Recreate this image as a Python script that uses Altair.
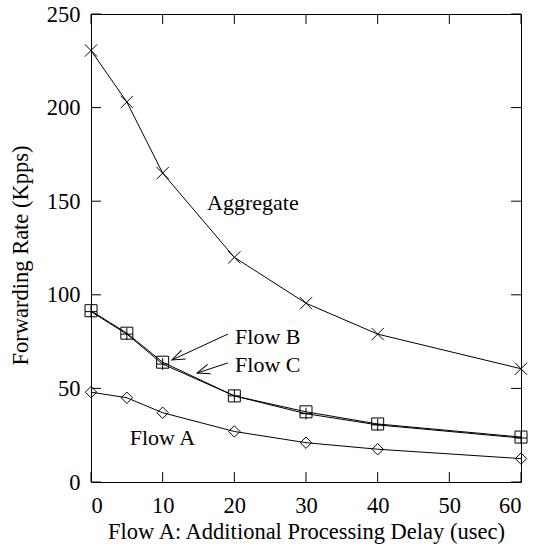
import math
import altair as alt
import pandas as pd

# ---- data ----
x_vals = [0, 5, 10, 20, 30, 40, 60]
aggregate = [230.5, 203, 165, 120, 95.5, 79, 60.5]
flow_b = [91.5, 79.5, 64, 46, 37.5, 31, 24]
flow_c = [91, 79, 63, 46, 36.5, 30.5, 23.5]
flow_a = [48, 45, 37, 27, 21, 17.5, 12.5]

x_ticks = [0, 10, 20, 30, 40, 50, 60]
y_ticks = [0, 50, 100, 150, 200, 250]

label_text = ["Aggregate", "Flow B", "Flow C", "Flow A"]
label_x = [16.2, 20.1, 20.1, 5.4]
label_y = [149, 77.5, 62.5, 23.5]

arrow_x1 = [19.1, 19.1]
arrow_y1 = [79, 63.6]
arrow_x2 = [11.3, 14.8]
arrow_y2 = [65.2, 58.2]

# ---- layout ----
W, H = 430, 468
FONT = "Liberation Serif"
FS = 22
AFS = 22.5

xs = alt.Scale(domain=[0, 60], nice=False, zero=False)
ys = alt.Scale(domain=[0, 250], nice=False, zero=True)

X_SHAPE = "M-1,-1L1,1M-1,1L1,-1"
PLUS = "M-1,0L1,0M0,-1L0,1"
ARROW = "M-1,-0.38L0,0L-1,0.38"

series = [
    ("Aggregate", aggregate, X_SHAPE, 150),
    ("Flow B", flow_b, "square", 144),
    ("Flow C", flow_c, PLUS, 144),
    ("Flow A", flow_a, "diamond", 130),
]

common = dict(ticks=False, domain=False, grid=False,
              labelFont=FONT, labelFontSize=AFS, labelColor="black",
              titleFont=FONT, titleFontSize=AFS, titleColor="black",
              titleFontWeight="normal")
x_axis = alt.Axis(values=x_ticks, labelPadding=12,
                  title="Flow A: Additional Processing Delay (usec)",
                  titleY=56, titleBaseline="alphabetic", **common)
y_axis = alt.Axis(values=y_ticks, labelPadding=11, labelBaseline="middle",
                  title="Forwarding Rate (Kpps)", titleX=-64, titleY=241,
                  titleAngle=-90, titleAlign="center", titleBaseline="alphabetic",
                  **common)


def X(field):
    return alt.X(field, scale=xs, axis=x_axis)


def Y(field):
    return alt.Y(field, scale=ys, axis=y_axis)


layers = []
for name, vals, shape, size in series:
    df = pd.DataFrame({"x": x_vals, "y": vals})
    layers.append(alt.Chart(df).mark_line(color="black", strokeWidth=1)
                  .encode(x=X("x:Q"), y=Y("y:Q")))
    layers.append(alt.Chart(df).mark_point(shape=shape, size=size, filled=False,
                                           color="black", strokeWidth=1, opacity=1)
                  .encode(x=X("x:Q"), y=Y("y:Q")))

# labels
lab_df = pd.DataFrame({"t": label_text, "x": label_x, "y": label_y})
layers.append(alt.Chart(lab_df).mark_text(align="left", baseline="middle", font=FONT,
                                          fontSize=FS, color="black")
              .encode(x=X("x:Q"), y=Y("y:Q"), text="t:N"))

# arrows
kx, ky = W / 60, H / 250
angles = [math.degrees(math.atan2(-(y2 - y1) * ky, (x2 - x1) * kx)) % 360
          for x1, y1, x2, y2 in zip(arrow_x1, arrow_y1, arrow_x2, arrow_y2)]
arr_df = pd.DataFrame({"x1": arrow_x1, "y1": arrow_y1, "x2": arrow_x2,
                       "y2": arrow_y2, "ang": angles})
layers.append(alt.Chart(arr_df).mark_rule(color="black", strokeWidth=1)
              .encode(x=X("x1:Q"), y=Y("y1:Q"), x2="x2:Q", y2="y2:Q"))
layers.append(alt.Chart(arr_df).mark_point(shape=ARROW, size=650, filled=False,
                                           color="black", strokeWidth=1, opacity=1)
              .encode(x=X("x2:Q"), y=Y("y2:Q"),
                      angle=alt.Angle("ang:Q", scale=None)))

# inward mirrored ticks
TL = 10
xt = pd.DataFrame({"t": x_ticks})
yt = pd.DataFrame({"t": y_ticks})
for y0, y1 in [(H, H - TL), (0, TL)]:
    layers.append(alt.Chart(xt).mark_rule(color="black", strokeWidth=1)
                  .encode(x=X("t:Q"), y=alt.value(y0), y2=alt.value(y1)))
for x0, x1 in [(0, TL), (W, W - TL)]:
    layers.append(alt.Chart(yt).mark_rule(color="black", strokeWidth=1)
                  .encode(y=Y("t:Q"), x=alt.value(x0), x2=alt.value(x1)))

chart = (alt.layer(*layers)
         .properties(width=W, height=H, background="white",
                     padding={"left": 91, "top": 14, "right": 15, "bottom": 62},
                     autosize=alt.AutoSizeParams(type="none"))
         .configure_view(stroke="black", strokeWidth=1))

chart.save("out.html", embed_options={"renderer": "svg", "actions": False})
